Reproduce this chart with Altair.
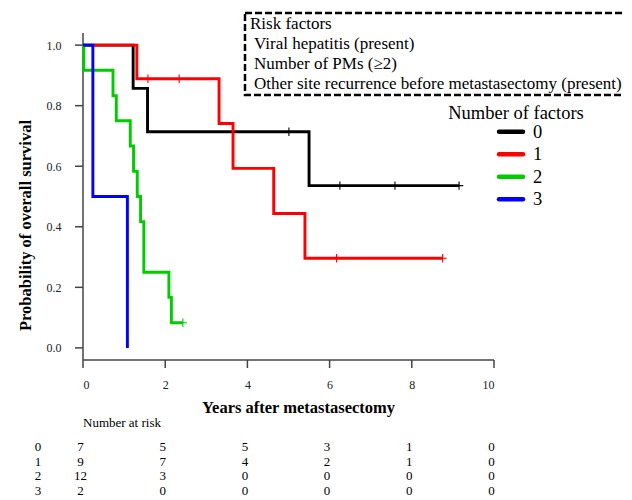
import altair as alt
import pandas as pd

FONT = "Liberation Serif"

# ---- Kaplan-Meier curves (years, survival) ----
groups = ["0", "1", "2", "3"]
colors = ["#000000", "#ff0000", "#00cc00", "#0000ff"]

t0 = [0.0, 1.22, 1.57, 5.50, 9.15]
s0 = [1.0, 0.857, 0.714, 0.536, 0.536]
c0_t = [5.01, 6.25, 7.59, 9.15]
c0_s = [0.714, 0.536, 0.536, 0.536]

t1 = [0.0, 1.31, 3.31, 3.65, 4.64, 5.40, 8.75]
s1 = [1.0, 0.889, 0.741, 0.593, 0.444, 0.296, 0.296]
c1_t = [1.58, 2.34, 6.17, 8.75]
c1_s = [0.889, 0.889, 0.296, 0.296]

t2 = [0.0, 0.02, 0.73, 0.81, 1.15, 1.23, 1.32, 1.40, 1.48, 2.09, 2.15, 2.43]
s2 = [1.0, 0.917, 0.833, 0.750, 0.667, 0.583, 0.500, 0.417, 0.250, 0.167, 0.083, 0.083]
c2_t = [2.43]
c2_s = [0.083]

t3 = [0.0, 0.24, 1.08]
s3 = [1.0, 0.5, 0.0]
c3_t = []
c3_s = []

# ---- Number at risk ----
risk_times = [0, 2, 4, 6, 8, 10]
risk0 = [7, 5, 5, 3, 1, 0]
risk1 = [9, 7, 4, 2, 1, 0]
risk2 = [12, 3, 0, 0, 0, 0]
risk3 = [2, 0, 0, 0, 0, 0]

x_ticks = [0, 2, 4, 6, 8, 10]
y_ticks = [0.0, 0.2, 0.4, 0.6, 0.8, 1.0]
x_domain = [0, 10]
y_domain = [-0.04, 1.04]

box_title = "Risk factors"
box_lines = ["Viral hepatitis (present)", "Number of PMs (\u22652)",
             "Other site recurrence before metastasectomy (present)"]
legend_title = "Number of factors"

W, H = 411, 327
AXIS_COLOR = "#444444"

# ---- tables ----
curves = [(t0, s0), (t1, s1), (t2, s2), (t3, s3)]
cens = [(c0_t, c0_s), (c1_t, c1_s), (c2_t, c2_s), (c3_t, c3_s)]
risks = [risk0, risk1, risk2, risk3]

curve_rows = []
for g, (ts, ss) in zip(groups, curves):
    for i, (t, s) in enumerate(zip(ts, ss)):
        curve_rows.append({"group": g, "idx": i, "time": t, "surv": s})
curve_df = pd.DataFrame(curve_rows)

cens_rows = []
for g, (ts, ss) in zip(groups, cens):
    for t, s in zip(ts, ss):
        cens_rows.append({"group": g, "time": t, "surv": s})
cens_df = pd.DataFrame(cens_rows)

color_scale = alt.Scale(domain=groups, range=colors)
xs = alt.Scale(domain=x_domain, nice=False, zero=False)
ys = alt.Scale(domain=y_domain, nice=False, zero=False)

x_axis = alt.Axis(values=x_ticks, format="d", labelPadding=11,
                  titleX=215, titleY=47, titleBaseline="middle", titleAlign="center")
y_axis = alt.Axis(values=y_ticks, format=".1f", labelPadding=14,
                  titleX=-58, titleY=192, titleBaseline="middle", titleAlign="center",
                  titleAngle=270)

X = lambda f: alt.X(f, scale=xs, axis=x_axis, title="Years after metastasectomy")
Y = lambda f: alt.Y(f, scale=ys, axis=y_axis, title="Probability of overall survival")

# ---- axis lines and tick marks, drawn as filled rects through the scales ----
dom_df = pd.DataFrame({"xa": [x_domain[0]], "xb": [x_domain[1]],
                       "ya": [y_domain[0]], "yb": [y_domain[1]]})
x_domain_rect = alt.Chart(dom_df).mark_rect(color=AXIS_COLOR, opacity=1).encode(
    x=X("xa:Q"), x2="xb:Q", y=alt.value(H - 0.75), y2=alt.value(H + 0.75))
y_domain_rect = alt.Chart(dom_df).mark_rect(color=AXIS_COLOR, opacity=1).encode(
    y=Y("ya:Q"), y2="yb:Q", x=alt.value(-0.75), x2=alt.value(0.75))
xtick_marks = alt.Chart(pd.DataFrame({"t": x_ticks})).mark_tick(
    orient="vertical", size=8, thickness=1.5, color=AXIS_COLOR, opacity=1).encode(
    x=X("t:Q"), y=alt.value(H + 4))
ytick_marks = alt.Chart(pd.DataFrame({"v": y_ticks})).mark_tick(
    orient="horizontal", size=8, thickness=1.5, color=AXIS_COLOR, opacity=1).encode(
    y=Y("v:Q"), x=alt.value(-4))

lines = alt.Chart(curve_df).mark_line(interpolate="step-after", strokeWidth=2.9).encode(
    x=X("time:Q"), y=Y("surv:Q"),
    color=alt.Color("group:N", scale=color_scale, legend=None),
    order=alt.Order("idx:Q"),
)

censor = alt.Chart(cens_df).mark_point(
    shape="M-1,0L1,0M0,-1L0,1", size=70, strokeWidth=1.1, filled=False, opacity=1
).encode(
    x=X("time:Q"), y=Y("surv:Q"),
    color=alt.Color("group:N", scale=color_scale, legend=None),
)

layers = [x_domain_rect, y_domain_rect, xtick_marks, ytick_marks, lines, censor]

# ---- risk factor box ----
one = pd.DataFrame({"k": [0]})
layers.append(
    alt.Chart(one).mark_rect(fill="white", fillOpacity=0, stroke="black",
                             strokeWidth=2.5, strokeDash=[7, 3]).encode(
        x=alt.value(162), x2=alt.value(544), y=alt.value(-20), y2=alt.value(62))
)
layers.append(
    alt.Chart(pd.DataFrame({"label": [box_title]})).mark_text(
        font=FONT, fontSize=17, align="left", baseline="middle", color="black").encode(
        text="label:N", x=alt.value(167), y=alt.value(-9))
)
for i, line in enumerate(box_lines):
    layers.append(
        alt.Chart(pd.DataFrame({"label": [line]})).mark_text(
            font=FONT, fontSize=17, align="left", baseline="middle", color="black").encode(
            text="label:N", x=alt.value(171), y=alt.value(11 + 20 * i))
    )

# ---- legend ----
layers.append(
    alt.Chart(pd.DataFrame({"label": [legend_title]})).mark_text(
        font=FONT, fontSize=18.5, align="center", baseline="middle", color="black").encode(
        text="label:N", x=alt.value(433), y=alt.value(80))
)
for i, g in enumerate(groups):
    gdf = pd.DataFrame({"group": [g]})
    yy = 98.7 + 22.5 * i
    layers.append(
        alt.Chart(gdf).mark_rule(strokeWidth=4.5, strokeCap="round").encode(
            x=alt.value(416), x2=alt.value(440), y=alt.value(yy),
            color=alt.Color("group:N", scale=color_scale, legend=None))
    )
    layers.append(
        alt.Chart(gdf).mark_text(font=FONT, fontSize=18.5, align="left",
                                 baseline="middle", color="black").encode(
            text="group:N", x=alt.value(450), y=alt.value(yy))
    )

# ---- number at risk table ----
layers.append(
    alt.Chart(pd.DataFrame({"label": ["Number at risk"]})).mark_text(
        font=FONT, fontSize=13, align="left", baseline="middle", color="black").encode(
        text="label:N", x=alt.value(0), y=alt.value(390))
)
for i, (g, r) in enumerate(zip(groups, risks)):
    yy = 413.7 + 14.8 * i
    rdf = pd.DataFrame({"time": risk_times, "n": r})
    layers.append(
        alt.Chart(rdf).mark_text(font=FONT, fontSize=13, align="center",
                                 baseline="middle", dx=-2.5, color="black").encode(
            text="n:Q", x=alt.X("time:Q", scale=xs), y=alt.value(yy))
    )
    layers.append(
        alt.Chart(pd.DataFrame({"label": [g]})).mark_text(
            font=FONT, fontSize=13, align="center", baseline="middle", color="black").encode(
            text="label:N", x=alt.value(-45), y=alt.value(yy))
    )

chart = alt.layer(*layers).properties(
    width=W, height=H,
    padding={"left": 75, "top": 25, "right": 130, "bottom": 150},
    autosize=alt.AutoSizeParams(type="none"),
).configure_view(stroke=None).configure_axis(
    grid=False, domainOpacity=0, tickOpacity=0, tickSize=8,
    labelFont=FONT, labelFontSize=12, labelColor="#222222",
    titleFont=FONT, titleFontSize=16.5, titleFontWeight="bold", titleColor="#000000",
)

chart.save("out.html", embed_options={"renderer": "svg", "actions": False})
